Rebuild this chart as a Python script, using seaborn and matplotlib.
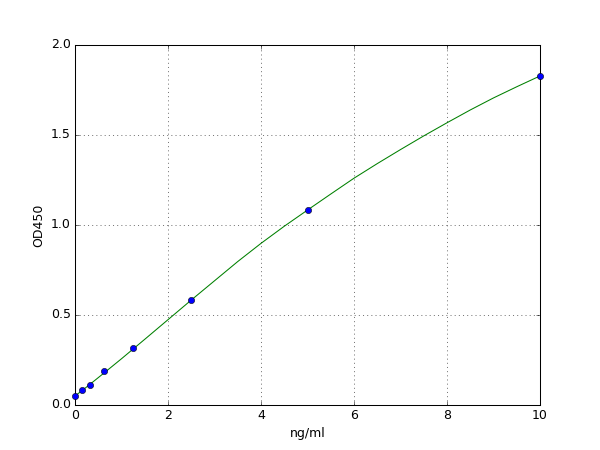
import numpy as np
import pandas as pd
import matplotlib
matplotlib.use("Agg")
import matplotlib.pyplot as plt
import seaborn as sns

# standard points
conc = [0, 0.156, 0.3125, 0.625, 1.25, 2.5, 5, 10]
od = [0.05, 0.083, 0.111, 0.187, 0.315, 0.583, 1.083, 1.828]

# fitted curve
curve_x = [0, 0.156, 0.3125, 0.625, 1, 1.25, 1.5, 2, 2.5, 3, 3.5, 4, 4.5, 5,
           5.5, 6, 6.5, 7, 7.5, 8, 8.5, 9, 9.5, 10]
curve_y = [0.05, 0.081, 0.113, 0.178, 0.257, 0.311, 0.365, 0.474, 0.583, 0.69,
           0.797, 0.898, 0.993, 1.083, 1.172, 1.26, 1.341, 1.419, 1.495, 1.568,
           1.639, 1.706, 1.768, 1.828]

x_ticks = [0, 2, 4, 6, 8, 10]
y_ticks = [0.0, 0.5, 1.0, 1.5, 2.0]

plt.style.use("classic")
plt.rcParams["figure.facecolor"] = "white"
plt.rcParams["font.family"] = ["DejaVu Sans"]

pts = pd.DataFrame({"conc": conc, "od": od})
fit = pd.DataFrame({"x": curve_x, "y": curve_y})

fig, ax = plt.subplots(figsize=(8, 6), dpi=75)
sns.lineplot(data=fit, x="x", y="y", color="#008000", linewidth=1, ax=ax)
sns.scatterplot(data=pts, x="conc", y="od", color="#0000ff", edgecolor="black",
                linewidth=0.5, s=36, zorder=3, clip_on=False, ax=ax)

ax.set_xlim(0, 10)
ax.set_ylim(0, 2.0)
ax.set_xticks(x_ticks)
ax.set_yticks(y_ticks)
ax.set_xlabel("ng/ml")
ax.set_ylabel("OD450")
ax.grid(True, linestyle=":", color="black", linewidth=0.5)

fig.subplots_adjust(left=0.125, right=0.9, bottom=0.1, top=0.9)
fig.savefig("out.png", dpi=75, facecolor="white")
